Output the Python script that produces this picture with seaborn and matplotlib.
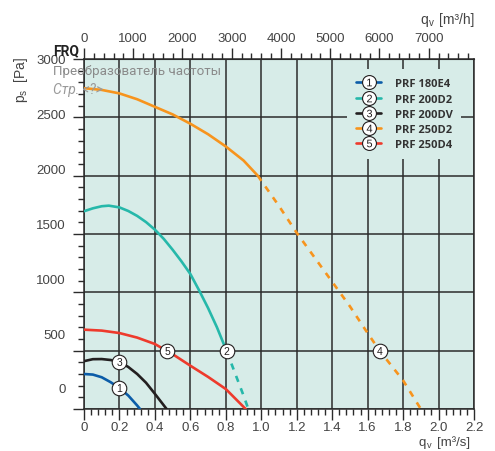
import numpy as np
import pandas as pd
import seaborn as sns
import matplotlib.pyplot as plt
from matplotlib.lines import Line2D
from matplotlib.legend_handler import HandlerTuple

# fan curves, q in m3/s, p in Pa
models = ['PRF 180E4', 'PRF 200D2', 'PRF 200DV', 'PRF 250D2', 'PRF 250D4']
colors = ['#0b5ca8', '#26b8aa', '#231f20', '#f7941d', '#ee3a2c']

q_180e4 = [0, 0.05, 0.1, 0.15, 0.2, 0.25, 0.3, 0.316]
p_180e4 = [300, 295, 272, 230, 180, 115, 30, 0]

q_200d2 = [0, 0.05, 0.1, 0.14, 0.2, 0.25, 0.3, 0.35, 0.4, 0.45, 0.5, 0.55, 0.6, 0.65, 0.7, 0.75, 0.805]
p_200d2 = [1695, 1720, 1738, 1743, 1728, 1697, 1655, 1602, 1537, 1458, 1365, 1265, 1157, 1015, 865, 700, 495]
q_200d2_ext = [0.805, 0.85, 0.9, 0.927]
p_200d2_ext = [495, 315, 115, 0]

q_200dv = [0, 0.05, 0.1, 0.15, 0.2, 0.25, 0.3, 0.35, 0.4, 0.466]
p_200dv = [410, 427, 428, 420, 405, 360, 300, 225, 130, 0]

q_250d2 = [0, 0.1, 0.2, 0.3, 0.4, 0.5, 0.6, 0.7, 0.8, 0.9, 0.98]
p_250d2 = [2750, 2735, 2705, 2655, 2590, 2525, 2445, 2355, 2250, 2130, 2000]
q_250d2_ext = [0.98, 1.1, 1.2, 1.3, 1.4, 1.5, 1.6, 1.67, 1.8, 1.9]
p_250d2_ext = [2000, 1740, 1510, 1300, 1090, 880, 650, 495, 245, 0]

q_250d4 = [0, 0.1, 0.2, 0.3, 0.4, 0.47, 0.5, 0.6, 0.7, 0.8, 0.912]
p_250d4 = [680, 672, 651, 612, 557, 495, 470, 371, 275, 171, 0]

# numbered badges on the curves
badge_q = [0.2, 0.805, 0.2, 1.67, 0.47]
badge_p = [180, 495, 405, 495, 495]

x_ticks = [0, 0.2, 0.4, 0.6, 0.8, 1.0, 1.2, 1.4, 1.6, 1.8, 2.0, 2.2]
x_ticklabels = ['0', '0.2', '0.4', '0.6', '0.8', '1.0', '1.2', '1.4', '1.6', '1.8', '2.0', '2.2']
top_ticks = [0, 1000, 2000, 3000, 4000, 5000, 6000, 7000]
y_grid = [0, 500, 1000, 1500, 2000, 2500, 3000]
y_labels = [0, 500, 1000, 1500, 2000, 2500, 3000]

parts = []
for name, q, p, kind in [
    (models[0], q_180e4, p_180e4, 'solid'),
    (models[1], q_200d2, p_200d2, 'solid'),
    (models[1], q_200d2_ext, p_200d2_ext, 'dashed'),
    (models[2], q_200dv, p_200dv, 'solid'),
    (models[3], q_250d2, p_250d2, 'solid'),
    (models[3], q_250d2_ext, p_250d2_ext, 'dashed'),
    (models[4], q_250d4, p_250d4, 'solid'),
]:
    parts.append(pd.DataFrame({'q': q, 'p': p, 'model': name, 'part': kind}))
df = pd.concat(parts, ignore_index=True)

sns.set_style('white')
plt.rcParams['font.family'] = ['Liberation Sans', 'DejaVu Sans']
plt.rcParams['mathtext.fontset'] = 'custom'
plt.rcParams['mathtext.rm'] = 'Liberation Sans'
plt.rcParams['mathtext.it'] = 'Liberation Sans'

bg = '#d7ece8'
ink = '#444444'
grid_c = '#2b2b2b'

fig = plt.figure(figsize=(4.95, 4.52), dpi=100)
ax = fig.add_axes([84 / 495, 1 - 410 / 452, 390 / 495, 350 / 452])
ax.set_facecolor(bg)

sns.lineplot(data=df, x='q', y='p', hue='model', style='part',
             palette=dict(zip(models, colors)),
             dashes={'solid': '', 'dashed': (2.4, 2.6)},
             sort=False, estimator=None, lw=1.9, legend=False, ax=ax, zorder=3)

ax.scatter(badge_q, badge_p, s=110, facecolor='white', edgecolor='#231f20', lw=0.8, zorder=4)
for i, (bq, bp) in enumerate(zip(badge_q, badge_p)):
    ax.text(bq, bp, str(i + 1), ha='center', va='center', fontsize=7.5, color='#231f20', zorder=5)

ax.set_xlim(0, 2.2)
ax.set_ylim(0, 3000)
ax.set_xticks(x_ticks)
ax.set_xticklabels(x_ticklabels)
ax.set_xticks(np.arange(0, 2.2001, 0.04), minor=True)
ax.set_yticks(y_grid)
ax.set_yticklabels([])
ax.set_yticks(np.arange(0, 3001, 100), minor=True)
ax.grid(True, which='major', color=grid_c, lw=1.1)
ax.set_axisbelow(True)
ax.tick_params(which='major', direction='out', length=8, width=1, color=grid_c,
               labelsize=9.5, labelcolor=ink, pad=1)
ax.tick_params(which='minor', direction='out', length=4, width=1, color=grid_c)
ax.tick_params(axis='y', which='both', left=True)
ax.tick_params(axis='x', which='both', bottom=True)
for s in ax.spines.values():
    s.set_color(grid_c)
    s.set_linewidth(1.1)
ax.set_xlabel('')
ax.set_ylabel('')

# the printed pressure labels sit a bit off the grid lines
off = 180.0
lab = ax.secondary_yaxis('left', functions=(lambda p: (p - off) * 3000 / (3000 - off),
                                            lambda v: off + v * (3000 - off) / 3000))
lab.set_yticks(y_labels)
lab.tick_params(length=0, pad=13, labelsize=9.5, labelcolor=ink)
lab.spines['left'].set_visible(False)

top = ax.secondary_xaxis('top', functions=(lambda q: q * 3600, lambda h: h / 3600))
top.set_xticks(top_ticks)
top.set_xticks(np.arange(0, 7801, 200), minor=True)
top.tick_params(which='major', direction='out', length=8, width=1, color=grid_c,
                labelsize=9.5, labelcolor=ink, pad=3)
top.tick_params(which='minor', direction='out', length=4, width=1, color=grid_c)

# axis titles built from plain pieces (q, small v, unit) so their boxes stay tight
renderer = fig.canvas.get_renderer()


def flow_label(x_right, base_y, unit, size):
    u = fig.text(x_right / 495, 1 - base_y / 452, unit, ha='right', va='baseline',
                 fontsize=size, color=ink)
    left = u.get_window_extent(renderer).x0
    fig.text((left - 10) / 495, 1 - (base_y + 2.5) / 452, 'v', ha='left', va='baseline',
             fontsize=size * 0.7, color=ink)
    fig.text((left - 18) / 495, 1 - base_y / 452, 'q', ha='left', va='baseline',
             fontsize=size, color=ink)


flow_label(474, 24, '[m³/h]', 10)
flow_label(470, 446, '[m³/s]', 9.5)
fig.text(21 / 495, 1 - 80 / 452, r'p$_\mathregular{s}$  [Pa]', rotation=90,
         ha='center', va='center', fontsize=10, color=ink)

fig.text(53 / 495, 1 - 51 / 452, 'FRQ', ha='left', va='center', fontsize=10,
         fontweight='bold', color='#222222', family=['Roboto', 'DejaVu Sans'])
fig.text(53 / 495, 1 - 72 / 452, 'Преобразователь частоты', ha='left', va='center',
         fontsize=9.6, color='#8a8a8a', family=['Roboto', 'DejaVu Sans'])
fig.text(53 / 495, 1 - 90 / 452, 'Стр. <?>', ha='left', va='center', fontsize=10,
         style='italic', color='#9a9a9a', family=['Roboto', 'DejaVu Sans'])

handles = []
for i, c in enumerate(colors):
    handles.append((Line2D([], [], color=c, lw=1.9),
                    Line2D([], [], marker='o', ms=10, mfc='white', mec='#231f20', mew=0.8, ls=''),
                    Line2D([], [], marker='$%d$' % (i + 1), ms=5.5, color='#231f20', mew=0, ls='')))
leg = ax.legend(handles, models, handler_map={tuple: HandlerTuple(ndivide=1)},
                loc='upper right', bbox_to_anchor=(0.982, 0.986), frameon=True,
                facecolor=bg, edgecolor='none', framealpha=1, fancybox=False,
                handlelength=2.3, handletextpad=1.2, labelspacing=0.38, borderpad=0.8,
                prop={'family': 'Open Sans', 'weight': 'bold', 'size': 8})
for t in leg.get_texts():
    t.set_color('#333333')
leg.set_zorder(6)

fig.savefig('out.png', dpi=100)
